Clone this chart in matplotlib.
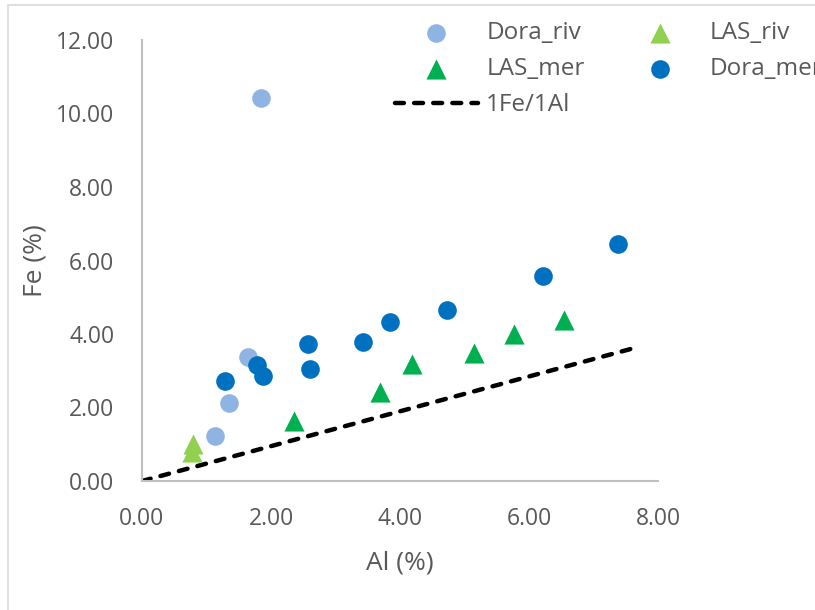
import matplotlib.pyplot as plt
from matplotlib.patches import Rectangle

plt.rcParams['font.family'] = ['Open Sans', 'DejaVu Sans']

# data (Al %, Fe %)
dora_riv_al = [1.85, 1.65, 1.35, 1.13]
dora_riv_fe = [10.43, 3.37, 2.12, 1.23]

las_riv_al = [0.79, 0.78]
las_riv_fe = [1.02, 0.80]

las_mer_al = [2.35, 3.69, 4.19, 5.15, 5.76, 6.54]
las_mer_fe = [1.62, 2.42, 3.19, 3.49, 3.99, 4.37]

dora_mer_al = [1.28, 1.79, 1.88, 2.57, 2.60, 3.42, 3.85, 4.73, 6.21, 7.38]
dora_mer_fe = [2.73, 3.15, 2.85, 3.72, 3.04, 3.79, 4.34, 4.66, 5.59, 6.45]

ref_al = [0.0, 7.72]
ref_fe = [0.0, 3.66]

grey = '#595959'

fig = plt.figure(figsize=(8.15, 6.10), dpi=100)
ax = fig.add_axes([142/815, 1-481/610, (658-142)/815, (481-40)/610])

# outer chart frame (cut off at right and bottom)
fig.patches.append(Rectangle((8/815, -0.1), 1.2, 1 - 5/610 + 0.1, transform=fig.transFigure,
                             fill=False, edgecolor='#D9D9D9', lw=1.2))

ax.plot(ref_al, ref_fe, color='black', ls=(0, (2.0, 2.3)), lw=3.2, dash_capstyle='round',
        label='1Fe/1Al', zorder=2)
ax.scatter(dora_riv_al, dora_riv_fe, s=180, marker='o', color='#8FB4E3', lw=0, label='Dora_riv', zorder=3)
ax.scatter(las_riv_al, las_riv_fe, s=210, marker='^', color='#92D050', lw=0, label='LAS_riv', zorder=3)
ax.scatter(las_mer_al, las_mer_fe, s=210, marker='^', color='#00B050', lw=0, label='LAS_mer', zorder=3)
ax.scatter(dora_mer_al, dora_mer_fe, s=180, marker='o', color='#0070C0', lw=0, label='Dora_mer', zorder=3)

ax.set_xlim(0, 8)
ax.set_ylim(0, 12)
ax.set_xticks([0, 2, 4, 6, 8])
ax.set_yticks([0, 2, 4, 6, 8, 10, 12])
ax.xaxis.set_major_formatter(lambda v, p: f'{v:.2f}')
ax.yaxis.set_major_formatter(lambda v, p: f'{v:.2f}')
ax.tick_params(length=0, labelsize=16.5, labelcolor=grey)
ax.tick_params(axis='x', pad=19)
ax.tick_params(axis='y', pad=20)
for s in ['top', 'right']:
    ax.spines[s].set_visible(False)
for s in ['left', 'bottom']:
    ax.spines[s].set_color('#BFBFBF')
    ax.spines[s].set_linewidth(1.5)
ax.set_xlabel('Al (%)', fontsize=19, color=grey, labelpad=14)
ax.set_ylabel('Fe (%)', fontsize=19, color=grey, labelpad=6)

# legend runs past the right edge, as in the original
h = {hh.get_label(): hh for hh in ax.get_legend_handles_labels()[0]}
order = ['Dora_riv', 'LAS_mer', '1Fe/1Al', 'LAS_riv', 'Dora_mer']
leg = fig.legend([h[k] for k in order], order, ncol=2, loc='upper left',
                 bbox_to_anchor=(395/815, 1 - 21/610), frameon=False, fontsize=17.5,
                 labelcolor=grey, handlelength=3.4, columnspacing=1.4, handletextpad=0.35,
                 labelspacing=0.5, borderpad=0, borderaxespad=0, scatterpoints=1)

fig.savefig('out.png', dpi=100)
